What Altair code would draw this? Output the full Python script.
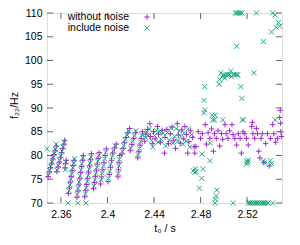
import altair as alt
import pandas as pd

# ---------------- data ----------------
t_without = [
    2.3490, 2.3500, 2.3510, 2.3520, 2.3530, 2.3540, 2.3550, 2.3560,
    2.3565, 2.3575, 2.3585, 2.3595, 2.3605, 2.3615, 2.3625, 2.3632,
    2.3635, 2.3640, 2.3645,
    2.3665, 2.3672, 2.3680, 2.3688, 2.3696, 2.3704, 2.3712,
    2.3738, 2.3746, 2.3754, 2.3762, 2.3770, 2.3778, 2.3786, 2.3792,
    2.3805, 2.3813, 2.3821, 2.3829, 2.3837, 2.3845, 2.3853, 2.3861,
    2.3880, 2.3888, 2.3896, 2.3904, 2.3912, 2.3920, 2.3928,
    2.3940, 2.3950, 2.3960, 2.3970, 2.3980, 2.3990,
    2.4005, 2.4015, 2.4025, 2.4035, 2.4045, 2.4060, 2.4075,
    2.4090, 2.4095, 2.4100, 2.4105,
    2.4125, 2.4135, 2.4145, 2.4160, 2.4175, 2.4190,
    2.4195, 2.4210, 2.4225, 2.4240,
    2.4260, 2.4270, 2.4280, 2.4290, 2.4300,
    2.4320, 2.4330, 2.4345, 2.4365, 2.4370, 2.4385, 2.4395, 2.4410,
    2.4430, 2.4440, 2.4455, 2.4470, 2.4490, 2.4495, 2.4510, 2.4525,
    2.4540, 2.4555, 2.4570, 2.4585, 2.4600, 2.4610, 2.4625, 2.4640,
    2.4655, 2.4665, 2.4680, 2.4690, 2.4700, 2.4715, 2.4730, 2.4745,
    2.4750, 2.4760,
    2.4780, 2.4800, 2.4815, 2.4840, 2.4850, 2.4865, 2.4880, 2.4895,
    2.4910, 2.4920, 2.4935, 2.4950, 2.4965, 2.4980, 2.4990, 2.5010,
    2.5020, 2.5035, 2.5050, 2.5070, 2.5080, 2.5095, 2.5110, 2.5125,
    2.5140, 2.5150, 2.5165, 2.5180, 2.5195, 2.5210, 2.5240, 2.5245,
    2.5250, 2.5265, 2.5280, 2.5290, 2.5300, 2.5310, 2.5320, 2.5330,
    2.5345, 2.5360, 2.5375, 2.5390, 2.5400, 2.5420, 2.5430, 2.5445,
    2.5460, 2.5480, 2.5485, 2.5490, 2.5495, 2.5488,
]
f_without = [
    75.6, 76.6, 77.5, 78.4, 79.3, 80.2, 81.1, 82.0,
    76.6, 77.6, 78.6, 79.6, 80.6, 81.5, 82.4, 83.2,
    77.4, 78.3, 79.0,
    72.0, 73.2, 74.4, 75.6, 76.8, 77.9, 79.0,
    71.2, 72.5, 73.8, 75.1, 76.4, 77.7, 79.0, 80.0,
    71.3, 72.6, 73.9, 75.2, 76.5, 77.8, 79.1, 80.4,
    73.0, 74.3, 75.6, 76.9, 78.2, 79.4, 80.6,
    74.0, 75.5, 77.0, 78.5, 80.0, 81.4,
    74.5, 76.0, 77.5, 79.0, 80.5, 81.6, 82.4,
    75.5, 77.0, 78.5, 80.0,
    80.3, 81.5, 82.7, 83.8, 84.8, 85.7,
    81.0, 82.3, 83.6, 84.8,
    79.5, 80.8, 82.2, 83.6, 85.0,
    83.0, 84.5, 85.5, 86.7, 84.0, 82.5, 85.0, 83.5,
    86.1, 84.5, 82.8, 85.3, 80.5, 83.8, 85.5, 82.5,
    84.6, 86.0, 83.2, 81.5, 86.7, 84.3, 82.6, 85.4,
    83.5, 86.1, 84.4, 80.5, 82.9, 85.2, 83.8, 81.8,
    80.5, 81.9,
    85.0, 83.6, 84.6, 86.5, 82.4, 84.8, 83.6, 85.6,
    80.9, 84.6, 83.6, 85.2, 82.0, 84.6, 83.4, 86.5,
    84.6, 83.6, 85.2, 86.5, 84.4, 83.6, 82.2, 84.6,
    83.6, 80.5, 85.0, 84.6, 83.6, 82.2, 86.1, 87.0,
    84.6, 83.6, 85.7, 84.6, 80.9, 79.5, 83.6, 84.6,
    78.5, 82.5, 84.6, 77.8, 83.6, 86.5, 84.6, 82.8,
    83.6, 88.0, 89.5, 85.0, 84.0, 86.8,
]

t_include = [
    2.3480, 2.3492, 2.3502, 2.3512, 2.3522, 2.3532, 2.3542, 2.3552, 2.3558,
    2.3568, 2.3578, 2.3588, 2.3598, 2.3608, 2.3618, 2.3628,
    2.3638, 2.3642,
    2.3660, 2.3670, 2.3678, 2.3686, 2.3694, 2.3702, 2.3710, 2.3716,
    2.3740, 2.3748, 2.3756, 2.3764, 2.3772, 2.3780, 2.3788, 2.3745,
    2.3810, 2.3818, 2.3826, 2.3834, 2.3842, 2.3850, 2.3858, 2.3815,
    2.3885, 2.3893, 2.3901, 2.3909, 2.3917, 2.3925,
    2.3945, 2.3955, 2.3965, 2.3975, 2.3985,
    2.4008, 2.4018, 2.4028, 2.4040, 2.4052, 2.4068,
    2.4092, 2.4098, 2.4103,
    2.4128, 2.4140, 2.4152, 2.4168, 2.4182,
    2.4200, 2.4215, 2.4230, 2.4245,
    2.4262, 2.4275, 2.4285, 2.4295,
    2.4325, 2.4338, 2.4350, 2.4360, 2.4378, 2.4390, 2.4405, 2.4420,
    2.4435, 2.4448, 2.4462, 2.4478, 2.4500, 2.4515, 2.4530, 2.4548,
    2.4562, 2.4578, 2.4592, 2.4605, 2.4618, 2.4632, 2.4648, 2.4660,
    2.4675, 2.4695, 2.4708, 2.4722,
    2.4735, 2.4752, 2.4756, 2.4760, 2.4790, 2.4810, 2.4820, 2.4812,
    2.4880, 2.4884, 2.4920, 2.4925,
    2.4925, 2.4928, 2.4935, 2.4940, 2.5080,
    2.5210, 2.5225, 2.5240, 2.5255, 2.5270, 2.5285, 2.5300, 2.5315,
    2.5330, 2.5345, 2.5360, 2.5380, 2.5420,
    2.5195, 2.5200, 2.5205, 2.5210, 2.5340, 2.5350, 2.5400, 2.5410,
    2.4990, 2.5160, 2.4900, 2.4905, 2.5165, 2.5440,
    2.4830, 2.4835, 2.4830, 2.4835, 2.4960, 2.4965, 2.4975, 2.4985,
    2.5000, 2.5010, 2.5020, 2.5035, 2.5050, 2.5060, 2.5065, 2.5080,
    2.5095, 2.5110, 2.5120, 2.5145, 2.5155, 2.5110, 2.5260, 2.5340,
    2.5410, 2.5450, 2.5470, 2.5480,
    2.5100, 2.5110, 2.5125, 2.5140, 2.5155, 2.5280, 2.5420, 2.5440,
]
f_include = [
    81.4, 75.8, 76.8, 77.7, 78.6, 79.5, 80.4, 81.3, 82.4,
    76.9, 77.9, 78.9, 79.9, 80.9, 81.8, 82.7,
    77.0, 78.6,
    70.0, 72.6, 73.8, 75.0, 76.2, 77.4, 78.4, 79.3,
    71.8, 73.1, 74.4, 75.7, 77.0, 78.3, 79.5, 70.0,
    71.9, 73.2, 74.5, 75.8, 77.1, 78.4, 79.7, 70.0,
    73.6, 74.9, 76.2, 77.5, 78.8, 80.0,
    74.8, 76.3, 77.8, 79.3, 80.7,
    75.2, 76.7, 78.2, 79.8, 81.0, 82.0,
    76.2, 77.8, 79.2,
    80.9, 82.1, 83.3, 84.3, 85.2,
    81.6, 83.0, 84.2, 85.2,
    80.2, 81.5, 82.9, 84.3,
    83.8, 85.0, 84.2, 85.6, 83.2, 81.8, 84.2, 85.2,
    82.8, 85.0, 83.4, 84.7, 82.0, 84.8, 83.2, 85.8,
    82.6, 84.0, 85.6, 83.0, 85.2, 84.0, 82.4, 84.8,
    83.0, 85.6, 81.8, 84.4,
    76.8, 76.4, 77.2, 76.6, 73.1, 75.2, 77.2, 80.3,
    78.9, 82.6, 87.5, 88.5,
    70.0, 70.8, 71.5, 72.7, 70.0,
    70.0, 70.0, 70.0, 70.0, 70.0, 70.0, 70.0, 70.0,
    70.0, 70.0, 70.0, 70.0, 70.0,
    78.2, 78.8, 78.5, 79.0, 78.9, 78.5, 78.9, 78.3,
    87.5, 87.5, 88.5, 87.5, 87.5, 87.5,
    89.0, 89.6, 91.6, 94.5, 95.0, 96.0, 97.4, 96.6,
    97.0, 96.3, 97.0, 97.0, 97.0, 97.8, 96.6, 97.0,
    97.0, 97.0, 97.0, 94.5, 92.0, 103.0, 97.4, 104.0,
    106.0, 107.0, 108.0, 107.2,
    110.0, 110.0, 110.0, 110.0, 110.0, 110.0, 110.0, 109.6,
]

x_ticks = [2.36, 2.40, 2.44, 2.48, 2.52]
y_ticks = [70, 75, 80, 85, 90, 95, 100, 105, 110]
series_names = ["without noise", "include noise"]
series_colors = ["#9400D3", "#009E73"]

# ---------------- chart ----------------
W, H = 235, 190
X_DOM = [2.348, 2.550]
Y_DOM = [70, 110]
FONT = "Liberation Sans"
PLUS = "M-1,0L1,0M0,-1L0,1"
CROSS = "M-1,-1L1,1M-1,1L1,-1"

xs = alt.Scale(domain=X_DOM, nice=False, zero=False)
ys = alt.Scale(domain=Y_DOM, nice=False, zero=False)

x_axis = alt.Axis(values=x_ticks, format="~g", ticks=False, domain=False, grid=False,
                  labelPadding=6, labelFontSize=10.5, labelFont=FONT, labelColor="black",
                  labelOverlap=False, labelFlush=False,
                  title="t₀ / s", titleFont=FONT, titleFontSize=10.5, titleFontWeight="normal",
                  titleColor="black", titleBaseline="middle", titleY=25)
y_axis = alt.Axis(values=y_ticks, ticks=False, domain=False, grid=False,
                  labelPadding=5, labelFontSize=10.5, labelFont=FONT, labelColor="black",
                  labelOverlap=False, labelFlush=False,
                  title="f₂₂/Hz", titleFont=FONT, titleFontSize=10.5, titleFontWeight="normal",
                  titleColor="black", titleX=-33, titleY=92, titleAngle=-90,
                  titleBaseline="middle", titleAlign="center")

# all marks share one table so the axes come from a single layer definition
rows = ([{"t": t, "f": f, "s": series_names[0]} for t, f in zip(t_without, f_without)] +
        [{"t": t, "f": f, "s": series_names[1]} for t, f in zip(t_include, f_include)])
df = pd.DataFrame(rows)

base = alt.Chart(df).encode(
    x=alt.X("t:Q", scale=xs, axis=x_axis),
    y=alt.Y("f:Q", scale=ys, axis=y_axis),
)
pts1 = base.transform_filter(alt.datum.s == series_names[0]).mark_point(
    shape=PLUS, size=30, filled=False, strokeWidth=1,
    color=series_colors[0], opacity=0.85, clip=False)
pts2 = base.transform_filter(alt.datum.s == series_names[1]).mark_point(
    shape=CROSS, size=26, filled=False, strokeWidth=1,
    color=series_colors[1], opacity=0.85, clip=False)

ydf = pd.DataFrame({"f": y_ticks})
xdf = pd.DataFrame({"t": x_ticks})
TICK_C = "#666666"
TL = 6
ytick_l = alt.Chart(ydf).mark_rule(color=TICK_C, strokeWidth=1).encode(
    y=alt.Y("f:Q", scale=ys, axis=y_axis), x=alt.value(0), x2=alt.value(TL))
ytick_r = alt.Chart(ydf).mark_rule(color=TICK_C, strokeWidth=1).encode(
    y=alt.Y("f:Q", scale=ys, axis=y_axis), x=alt.value(W - TL), x2=alt.value(W))
xtick_b = alt.Chart(xdf).mark_rule(color=TICK_C, strokeWidth=1).encode(
    x=alt.X("t:Q", scale=xs, axis=x_axis), y=alt.value(H - TL), y2=alt.value(H))
xtick_t = alt.Chart(xdf).mark_rule(color=TICK_C, strokeWidth=1).encode(
    x=alt.X("t:Q", scale=xs, axis=x_axis), y=alt.value(0), y2=alt.value(TL))

leg1 = pd.DataFrame({"label": [series_names[0]]})
leg2 = pd.DataFrame({"label": [series_names[1]]})
lt1 = alt.Chart(leg1).mark_text(align="right", baseline="middle", font=FONT, fontSize=10.5,
                                color="black").encode(
    text="label:N", x=alt.value(82), y=alt.value(4))
lt2 = alt.Chart(leg2).mark_text(align="right", baseline="middle", font=FONT, fontSize=10.5,
                                color="black").encode(
    text="label:N", x=alt.value(82), y=alt.value(15))
ls1 = alt.Chart(leg1).mark_point(shape=PLUS, size=30, filled=False, strokeWidth=1,
                                 color=series_colors[0], opacity=0.85).encode(
    x=alt.value(100), y=alt.value(4))
ls2 = alt.Chart(leg2).mark_point(shape=CROSS, size=26, filled=False, strokeWidth=1,
                                 color=series_colors[1], opacity=0.85).encode(
    x=alt.value(100), y=alt.value(15))

chart = alt.layer(pts1, pts2, ytick_l, ytick_r, xtick_b, xtick_t, lt1, lt2, ls1, ls2).properties(
    width=W, height=H,
    padding={"left": 39, "top": 5, "right": 5, "bottom": 36},
    autosize=alt.AutoSizeParams(type="none"),
).configure_view(stroke="black", strokeWidth=1.2).configure(background="white")

chart.save("out.html", embed_options={"renderer": "svg", "actions": False})
